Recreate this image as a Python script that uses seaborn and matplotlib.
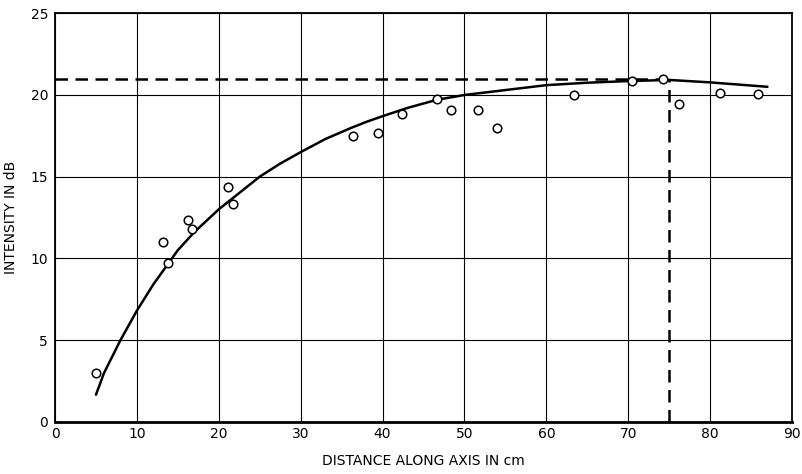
import pandas as pd
import seaborn as sns
import matplotlib.pyplot as plt

# measured points (open circles)
dist = [5.0, 13.2, 13.8, 16.2, 16.7, 21.1, 21.7, 36.4, 39.4, 42.4, 46.6, 48.4,
        51.6, 54.0, 63.4, 70.5, 74.2, 76.2, 81.2, 85.8]
intensity = [3.0, 11.0, 9.7, 12.35, 11.8, 14.35, 13.35, 17.5, 17.7, 18.85, 19.75, 19.05,
             19.05, 18.0, 20.0, 20.85, 20.95, 19.45, 20.1, 20.05]

# fitted curve
curve_x = [5, 6, 8, 10, 12, 14, 15, 17, 20, 22, 25, 27.5, 30, 33, 36, 38, 40, 43, 46.6,
           50, 55, 60, 65, 70, 75, 80, 87]
curve_y = [1.65, 3.0, 5.0, 6.8, 8.4, 9.8, 10.5, 11.6, 13.0, 13.8, 15.0, 15.8, 16.5,
           17.3, 17.95, 18.35, 18.7, 19.2, 19.7, 20.0, 20.3, 20.6, 20.75, 20.85, 20.92,
           20.77, 20.5]

peak_x = 75
peak_y = 21

pts = pd.DataFrame({'dist': dist, 'intensity': intensity})
fit = pd.DataFrame({'dist': curve_x, 'intensity': curve_y})

sns.set_style('white')
plt.rcParams['font.family'] = ['DejaVu Sans']

fig = plt.figure(figsize=(8.02, 4.74), dpi=100)
ax = fig.add_axes([0.0686, 0.1103, 0.9189, 0.8617])

ax.set_xlim(0, 90)
ax.set_ylim(0, 25)
ax.set_xticks(range(0, 91, 10))
ax.set_yticks(range(0, 26, 5))
ax.grid(True, color='black', linewidth=0.8)
ax.set_axisbelow(True)

sns.lineplot(data=fit, x='dist', y='intensity', ax=ax, color='black', linewidth=1.8)
ax.plot([0, peak_x], [peak_y, peak_y], color='black', linestyle=(0, (5, 3)), linewidth=1.8)
ax.plot([peak_x, peak_x], [0, peak_y], color='black', linestyle=(0, (5, 3)), linewidth=1.8)
sns.scatterplot(data=pts, x='dist', y='intensity', ax=ax, marker='o', s=38,
                facecolor='white', edgecolor='black', linewidth=1.1, zorder=5)

for side in ['top', 'right', 'left']:
    ax.spines[side].set_linewidth(1.3)
    ax.spines[side].set_color('black')
ax.spines['bottom'].set_linewidth(2.0)
ax.spines['bottom'].set_color('black')

ax.tick_params(axis='x', length=0, labelsize=10, colors='black', pad=4)
ax.tick_params(axis='y', length=0, labelsize=10, colors='black', pad=5)
ax.set_xlabel('DISTANCE ALONG AXIS IN cm', fontsize=10, labelpad=9, color='black')
ax.set_ylabel('INTENSITY IN dB', fontsize=10, labelpad=9, color='black')

fig.savefig('out.png', dpi=100)
